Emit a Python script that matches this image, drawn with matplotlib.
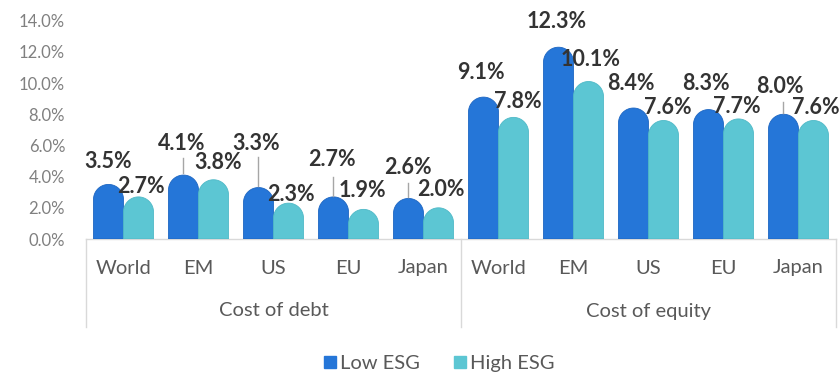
import numpy as np
import matplotlib
matplotlib.use("Agg")
import matplotlib.pyplot as plt
from matplotlib.path import Path
from matplotlib.patches import PathPatch
from matplotlib.lines import Line2D
import matplotlib.transforms as mtransforms

plt.rcParams["font.family"] = ["Lato", "DejaVu Sans"]

# ---- data ----
groups = ["Cost of debt", "Cost of equity"]
regions = ["World", "EM", "US", "EU", "Japan"]
categories = regions + regions
low_esg = [3.5, 4.1, 3.3, 2.7, 2.6, 9.1, 12.3, 8.4, 8.3, 8.0]
high_esg = [2.7, 3.8, 2.3, 1.9, 2.0, 7.8, 10.1, 7.6, 7.7, 7.6]
y_ticks = [0, 2, 4, 6, 8, 10, 12, 14]

# label placement (pixel offsets from the bar top)
low_label_off = [(0, 23), (-2, 32), (-2, 44), (-2, 37), (-1, 31),
                 (-3, 25), (-2, 26), (-3, 25), (-3, 26), (-4, 28)]
high_label_off = [(2, 10), (5, 17), (2, 9), (-1, 19), (2, 18),
                  (4, 16), (2, 22), (4, 13), (-2, 12), (2, 13)]
# leader lines under some low-ESG labels: index -> (dy_start, dy_end) in pixels
low_leaders = {1: (2, 17), 2: (1.5, 30.5), 3: (0.5, 20), 4: (1, 15), 9: (1, 12)}

LOW_C = "#2576d8"
HIGH_C = "#5cc6d3"
GRID_C = "#d9d9d9"
TEXT_C = "#595959"
TICK_C = "#808080"

W, H, DPI = 839, 372, 100
fig = plt.figure(figsize=(W / DPI, H / DPI), dpi=DPI)
ax_l, ax_r, ax_top, ax_bot = 86, 836, 20.7, 239
ax = fig.add_axes([ax_l / W, (H - ax_bot) / H, (ax_r - ax_l) / W, (ax_bot - ax_top) / H])

n = len(categories)
x = np.arange(n)
bw = 0.4
ax.set_xlim(-0.5, n - 0.5)
ax.set_ylim(0, 14)

# pixel scale of the data axes
px_per_x = (ax_r - ax_l) / n
px_per_y = (ax_bot - ax_top) / 14.0


def rounded_bar(xc, h, w, color, edge):
    r_x = w / 2
    r_y = (w * px_per_x / 2) / px_per_y
    x0 = xc - w / 2
    t = np.linspace(np.pi, 0, 40)
    arc = np.column_stack([xc + r_x * np.cos(t), (h - r_y) + r_y * np.sin(t)])
    verts = np.vstack([[x0, 0], [x0, h - r_y], arc, [x0 + w, 0], [x0, 0]])
    codes = [Path.MOVETO] + [Path.LINETO] * (len(verts) - 2) + [Path.CLOSEPOLY]
    ax.add_patch(PathPatch(Path(verts, codes), facecolor=color, edgecolor=edge, lw=0.6, zorder=3))


for i in range(n):
    rounded_bar(x[i] - bw / 2, low_esg[i], bw, LOW_C, "#1d66c2")
    rounded_bar(x[i] + bw / 2, high_esg[i], bw, HIGH_C, "#4fb9c7")

# value labels
for i in range(n):
    xl = x[i] - bw / 2
    xh = x[i] + bw / 2
    ax.annotate(f"{low_esg[i]:.1f}%", (xl, low_esg[i]), xytext=low_label_off[i],
                textcoords="offset pixels", ha="center", va="center",
                fontsize=15.5, fontweight="bold", color="#333333", zorder=5)
    ax.annotate(f"{high_esg[i]:.1f}%", (xh, high_esg[i]), xytext=high_label_off[i],
                textcoords="offset pixels", ha="center", va="center",
                fontsize=15.5, fontweight="bold", color="#333333", zorder=5)
    if i in low_leaders:
        d0, d1 = low_leaders[i]
        tr = mtransforms.offset_copy(ax.transData, fig=fig, x=-1, y=0, units="dots")
        ax.plot([xl, xl], [low_esg[i] + d0 / px_per_y, low_esg[i] + d1 / px_per_y],
                color="#a6a6a6", lw=1.0, zorder=4, transform=tr)

# y axis
ax.set_yticks(y_ticks)
ax.set_yticklabels([f"{v:.1f}%" for v in y_ticks])
ax.tick_params(axis="y", length=0, pad=15, labelsize=12, labelcolor=TICK_C)
ax.set_xticks([])
for s in ax.spines.values():
    s.set_visible(False)

# category axis with grouped labels
ax_h = ax_bot - ax_top
blend = mtransforms.blended_transform_factory(ax.transData, ax.transAxes)
ax.add_line(Line2D([0, 1], [0, 0], transform=ax.transAxes, color=GRID_C, lw=1.0, clip_on=False))
for xv in (0, 0.5, 1):
    ax.add_line(Line2D([xv, xv], [0, -88 / ax_h], transform=ax.transAxes,
                       color=GRID_C, lw=1.0, clip_on=False))
for i, c in enumerate(categories):
    ax.text(x[i], -29 / ax_h, c, transform=blend, ha="center", va="center",
            fontsize=14.5, color=TEXT_C, clip_on=False)
for g, name in enumerate(groups):
    ax.text(0.25 + 0.5 * g, -72 / ax_h, name, transform=ax.transAxes, ha="center",
            va="center", fontsize=14.5, color=TEXT_C, clip_on=False)

# legend
handles = [plt.Line2D([], [], marker="s", ls="", color=LOW_C, markersize=8),
           plt.Line2D([], [], marker="s", ls="", color=HIGH_C, markersize=8)]
fig.legend(handles, ["Low ESG", "High ESG"], loc="center", bbox_to_anchor=(438 / W, 1 - 363 / H),
           ncol=2, frameon=False, fontsize=14.5, labelcolor=TEXT_C, handletextpad=0.1,
           columnspacing=1.6, handlelength=0.8)

fig.savefig("out.png", dpi=DPI)
